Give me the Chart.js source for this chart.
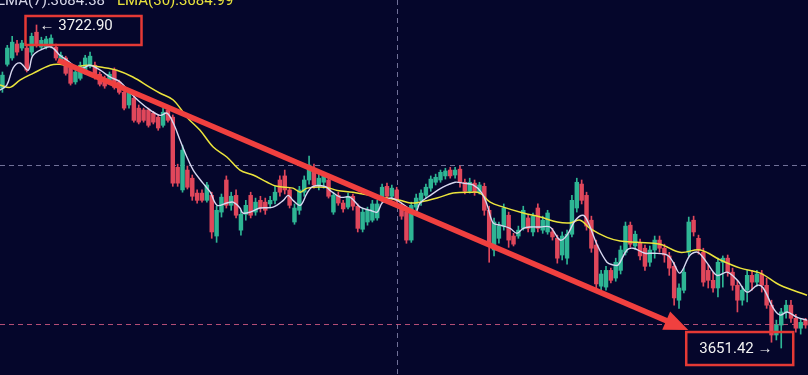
<!DOCTYPE html>
<html>
<head>
<meta charset="utf-8">
<script src="https://cdn.jsdelivr.net/npm/chart.js@4.4.1/dist/chart.umd.min.js"></script>
<style>
  html, body { margin: 0; padding: 0; background: #05062b; }
  #wrap { position: relative; width: 808px; height: 375px; overflow: hidden; }
  canvas { display: block; }
</style>
</head>
<body>
<div id="wrap"><canvas id="chart" width="808" height="375"></canvas></div>
<script>
// candles, one per period
const opens = [
  3708.9, 3714.2, 3715.6, 3718.7, 3717.8, 3717.8, 3716.9, 3721.3, 3718.0, 3718.0,
  3718.2, 3718.0, 3714.7, 3715.6, 3713.6, 3710.3, 3711.1, 3712.5, 3713.8, 3714.0,
  3712.0, 3711.1, 3710.3, 3712.9, 3710.3, 3708.0, 3705.2, 3706.7, 3704.5, 3704.1,
  3704.1, 3703.4, 3702.5, 3700.7, 3704.1, 3702.5, 3691.4, 3686.4, 3690.8, 3689.0,
  3685.7, 3685.7, 3684.1, 3685.2, 3676.2, 3681.5, 3688.6, 3683.0, 3685.2, 3677.5,
  3681.0, 3685.2, 3681.5, 3684.1, 3683.7, 3683.3, 3684.1, 3688.6, 3689.5, 3686.4,
  3679.3, 3681.9, 3685.9, 3688.6, 3691.2, 3687.5, 3688.1, 3688.6, 3681.5, 3685.2,
  3683.5, 3682.6, 3685.0, 3682.8, 3677.7, 3679.3, 3679.7, 3680.2, 3684.1, 3687.2,
  3685.0, 3686.4, 3682.8, 3681.5, 3675.3, 3682.6, 3684.1, 3685.2, 3686.8, 3688.1,
  3688.6, 3689.5, 3690.8, 3689.7, 3691.0, 3688.1, 3686.1, 3687.9, 3685.9, 3687.2,
  3681.9, 3673.1, 3675.7, 3678.4, 3680.8, 3676.2, 3676.2, 3677.9, 3680.2, 3677.1,
  3682.4, 3677.5, 3677.1, 3677.1, 3675.7, 3672.0, 3671.3, 3676.6, 3682.4, 3687.7,
  3685.2, 3679.7, 3674.2, 3665.1, 3664.9, 3668.6, 3666.9, 3668.6, 3672.6, 3678.6,
  3674.0, 3674.8, 3673.5, 3670.4, 3673.1, 3675.3, 3673.5, 3671.8, 3669.5, 3662.0,
  3664.2, 3672.6, 3679.7, 3675.7, 3672.6, 3668.6, 3666.4, 3664.7, 3670.4, 3671.3,
  3668.2, 3665.3, 3662.0, 3664.2, 3667.5, 3666.0, 3667.8, 3665.3, 3660.9, 3654.3,
  3656.5, 3659.4, 3660.9, 3658.0, 3655.8, 3657.6
];
const closes = [
  3711.8, 3717.8, 3719.1, 3716.9, 3718.9, 3712.9, 3720.4, 3718.4, 3719.5, 3719.8,
  3720.0, 3715.6, 3716.2, 3712.2, 3710.0, 3712.5, 3714.0, 3715.6, 3716.0, 3711.4,
  3709.8, 3709.4, 3712.0, 3709.1, 3708.0, 3704.5, 3708.0, 3701.8, 3701.4, 3701.8,
  3700.7, 3701.4, 3700.1, 3703.6, 3701.8, 3687.9, 3687.9, 3695.2, 3687.0, 3685.0,
  3684.1, 3684.1, 3687.5, 3677.1, 3681.9, 3684.8, 3683.0, 3685.0, 3680.8, 3681.0,
  3683.0, 3680.8, 3683.7, 3682.4, 3681.9, 3684.1, 3685.9, 3685.9, 3686.4, 3683.0,
  3682.4, 3686.4, 3688.6, 3691.9, 3687.5, 3689.0, 3689.5, 3685.0, 3685.2, 3683.5,
  3682.2, 3685.0, 3682.8, 3677.9, 3681.5, 3681.9, 3683.3, 3683.3, 3687.0, 3685.0,
  3686.8, 3684.1, 3680.6, 3675.3, 3683.0, 3684.6, 3685.7, 3687.0, 3688.8, 3689.2,
  3690.3, 3690.6, 3689.5, 3690.8, 3688.1, 3686.1, 3688.1, 3685.9, 3687.5, 3681.9,
  3674.2, 3679.3, 3678.4, 3682.4, 3675.3, 3674.4, 3677.5, 3681.9, 3677.9, 3680.6,
  3677.9, 3679.7, 3681.3, 3676.0, 3671.3, 3676.2, 3676.6, 3684.1, 3688.1, 3684.1,
  3678.4, 3673.5, 3665.6, 3667.8, 3668.6, 3666.4, 3670.4, 3673.1, 3678.4, 3674.4,
  3676.6, 3671.8, 3669.5, 3673.1, 3675.3, 3673.5, 3672.0, 3669.1, 3662.5, 3664.7,
  3668.2, 3679.3, 3677.1, 3673.1, 3666.0, 3666.4, 3664.7, 3670.4, 3671.3, 3668.2,
  3665.3, 3662.0, 3664.2, 3667.5, 3666.0, 3667.8, 3665.3, 3660.9, 3654.3, 3656.5,
  3659.4, 3660.9, 3658.0, 3655.8, 3657.1, 3656.5
];
const highs = [
  3712.5, 3718.4, 3720.4, 3719.5, 3719.5, 3718.4, 3721.1, 3722.90, 3720.2, 3720.4,
  3720.7, 3718.7, 3716.9, 3716.0, 3714.2, 3712.9, 3714.7, 3716.2, 3716.9, 3714.7,
  3712.5, 3711.6, 3712.5, 3713.4, 3710.7, 3708.7, 3708.5, 3707.2, 3705.2, 3704.5,
  3704.5, 3703.8, 3703.0, 3704.5, 3704.9, 3703.0, 3692.1, 3696.3, 3691.7, 3689.7,
  3686.4, 3686.4, 3688.1, 3685.9, 3682.8, 3685.5, 3689.5, 3685.9, 3686.4, 3681.9,
  3684.1, 3685.9, 3684.6, 3685.0, 3684.6, 3685.0, 3687.2, 3689.5, 3690.8, 3686.8,
  3683.3, 3687.2, 3689.5, 3693.9, 3692.1, 3689.9, 3690.3, 3689.5, 3685.9, 3685.9,
  3684.1, 3685.7, 3685.5, 3683.3, 3682.4, 3682.6, 3684.1, 3684.1, 3687.7, 3687.9,
  3687.5, 3687.0, 3683.5, 3682.4, 3683.7, 3685.5, 3686.4, 3687.7, 3689.5, 3689.9,
  3690.8, 3691.2, 3691.4, 3691.4, 3691.7, 3688.8, 3689.0, 3688.6, 3688.1, 3687.9,
  3682.8, 3680.2, 3679.3, 3683.3, 3681.5, 3676.8, 3678.4, 3682.8, 3680.8, 3681.3,
  3683.3, 3680.6, 3681.9, 3677.9, 3676.4, 3677.1, 3677.5, 3685.2, 3689.0, 3688.6,
  3685.9, 3680.6, 3675.3, 3668.6, 3669.5, 3669.1, 3671.3, 3674.0, 3679.3, 3679.3,
  3677.3, 3675.5, 3674.2, 3674.0, 3676.2, 3676.2, 3674.4, 3672.6, 3670.4, 3665.6,
  3669.1, 3680.4, 3680.6, 3676.4, 3673.5, 3669.8, 3668.2, 3671.3, 3671.8, 3672.0,
  3669.1, 3666.4, 3665.1, 3668.6, 3668.6, 3668.6, 3668.6, 3666.9, 3662.0, 3657.6,
  3660.2, 3662.0, 3662.0, 3658.9, 3658.0, 3658.0
];
const lows = [
  3708.0, 3713.8, 3715.1, 3716.2, 3717.3, 3712.5, 3716.2, 3718.0, 3717.6, 3717.6,
  3717.8, 3715.1, 3714.2, 3711.8, 3709.6, 3709.8, 3710.7, 3712.0, 3713.4, 3710.9,
  3709.4, 3708.9, 3709.8, 3708.7, 3707.6, 3704.1, 3704.5, 3701.4, 3701.0, 3701.4,
  3700.3, 3701.0, 3699.6, 3700.3, 3701.4, 3687.2, 3687.2, 3685.9, 3686.6, 3684.1,
  3683.5, 3683.7, 3683.7, 3675.7, 3674.8, 3680.4, 3682.4, 3681.9, 3680.2, 3676.4,
  3679.7, 3680.2, 3680.8, 3681.5, 3681.0, 3682.4, 3683.3, 3685.0, 3685.5, 3682.4,
  3678.8, 3681.0, 3685.0, 3687.7, 3686.8, 3686.4, 3686.8, 3684.6, 3681.0, 3683.0,
  3681.5, 3682.2, 3681.9, 3677.1, 3677.1, 3678.6, 3679.3, 3679.7, 3683.7, 3684.4,
  3684.6, 3683.7, 3679.9, 3674.6, 3674.8, 3681.9, 3683.0, 3684.6, 3686.1, 3687.5,
  3688.1, 3688.8, 3689.0, 3689.0, 3687.0, 3685.5, 3685.7, 3685.2, 3685.5, 3680.8,
  3670.4, 3671.8, 3674.6, 3677.5, 3673.7, 3674.0, 3675.7, 3677.5, 3677.1, 3676.2,
  3677.1, 3676.8, 3676.6, 3675.3, 3670.2, 3670.9, 3670.0, 3676.0, 3681.5, 3683.3,
  3677.5, 3672.6, 3664.2, 3663.3, 3664.2, 3665.8, 3666.2, 3667.8, 3672.0, 3673.7,
  3673.3, 3670.9, 3668.6, 3669.5, 3671.3, 3672.6, 3670.4, 3667.5, 3660.9, 3660.2,
  3663.6, 3671.8, 3676.2, 3672.2, 3665.1, 3664.7, 3663.8, 3662.7, 3664.9, 3667.3,
  3664.2, 3659.4, 3660.9, 3661.6, 3664.2, 3665.1, 3663.8, 3660.2, 3652.7, 3653.2,
  3651.42, 3658.0, 3657.1, 3654.9, 3654.5, 3655.8
];

// moving averages: candle position -> value
const ma7Pos = [
  -0.5, 0.9, 2.2, 3.6, 5.3, 6.3, 9.2, 10.4, 11.8, 13.3, 15.3, 16.6, 18.0, 20.1, 22.1,
  24.2, 26.2, 28.3, 30.3, 32.4, 33.8, 35.1, 36.5, 37.9, 39.2, 41.2, 42.7, 44.1, 46.1,
  47.4, 48.8, 49.4, 50.9, 52.9, 55.6, 57.7, 58.7, 59.7, 61.2, 62.6, 63.8, 66.3, 67.3,
  69.4, 71.4, 73.5, 75.5, 77.0, 78.0, 79.6, 81.1, 83.1, 84.8, 85.8, 87.9, 90.5, 93.0,
  94.6, 96.7, 98.5, 99.6, 100.8, 102.3, 104.3, 105.7, 107.0, 108.4, 110.5, 112.5,
  114.6, 116.0, 117.7, 119.3, 120.3, 122.2, 124.2, 125.5, 126.5, 128.3, 129.6, 132.0,
  133.7, 136.6, 137.8, 139.2, 141.3, 142.9, 144.8, 146.8, 148.9, 151.0, 153.0, 155.1,
  156.3, 158.4, 159.8, 161.2, 163.3, 165.3
];
const ma7 = [
  3708.5, 3709.6, 3713.4, 3714.5, 3712.9, 3716.2, 3718.0, 3717.8, 3716.2, 3715.1,
  3713.4, 3713.4, 3714.0, 3712.9, 3711.4, 3710.3, 3708.0, 3705.8, 3704.1, 3702.9,
  3703.4, 3701.2, 3697.4, 3693.7, 3690.8, 3687.9, 3685.9, 3683.0, 3683.5, 3683.7,
  3682.4, 3681.3, 3681.5, 3682.4, 3682.6, 3684.1, 3685.2, 3684.1, 3683.0, 3685.7,
  3687.2, 3687.2, 3686.3, 3684.8, 3684.8, 3682.6, 3681.9, 3681.5, 3683.5, 3684.6,
  3684.1, 3682.6, 3681.3, 3683.5, 3685.2, 3687.0, 3688.1, 3687.9, 3687.5, 3685.7,
  3683.0, 3679.1, 3678.6, 3677.9, 3676.8, 3677.9, 3678.2, 3678.2, 3678.2, 3675.3,
  3676.4, 3679.7, 3680.8, 3679.3, 3674.2, 3670.4, 3669.8, 3669.8, 3673.1, 3673.5,
  3672.4, 3672.4, 3672.0, 3670.4, 3668.0, 3672.0, 3672.6, 3670.2, 3667.5, 3668.2,
  3666.4, 3663.8, 3665.3, 3664.7, 3660.2, 3658.7, 3659.4, 3658.2, 3657.6
];
const ma30Pos = [
  -0.5, 1.6, 3.6, 6.3, 9.8, 11.8, 14.5, 17.4, 20.1, 23.5, 26.8, 30.3, 32.4, 35.1,
  37.9, 40.6, 43.3, 46.1, 48.8, 51.5, 54.4, 56.4, 59.7, 61.2, 62.6, 66.3, 68.8, 72.0,
  75.5, 79.0, 81.7, 83.8, 85.8, 89.3, 92.6, 96.1, 98.1, 100.2, 102.9, 107.0, 110.5,
  114.0, 116.6, 118.7, 120.7, 124.2, 126.9, 130.4, 135.1, 139.2, 143.4, 147.5, 151.6,
  155.7, 159.8, 165.3
];
const ma30 = [
  3709.6, 3709.1, 3710.7, 3712.2, 3714.0, 3714.2, 3713.6, 3714.0, 3713.6, 3712.9,
  3711.4, 3709.1, 3707.8, 3706.3, 3702.5, 3699.6, 3695.9, 3693.7, 3690.8, 3689.7,
  3688.1, 3687.2, 3686.8, 3685.9, 3686.8, 3687.0, 3686.3, 3685.9, 3685.2, 3684.6,
  3684.1, 3683.5, 3683.7, 3684.6, 3685.7, 3685.9, 3685.7, 3683.7, 3682.6, 3681.3,
  3680.4, 3679.3, 3679.1, 3679.7, 3677.9, 3675.9, 3675.1, 3674.8, 3674.4, 3672.6,
  3673.1, 3670.9, 3669.1, 3668.0, 3665.3, 3663.1
];

const legendTexts = ['LMA(7):3684.38', 'LMA(30):3684.99'];
const highLabel = '\u2190 3722.90';
const lowLabel = '3651.42 \u2192';
const highAt = [7, 3722.90];
const lowAt = [160, 3651.42];
const crossPos = 81;
const crossPrice = 3691.9;
const lastPrice = 3656.7;
const arrowFrom = [11.4, 3715.1];
const arrowTo = [140.9, 3655.4];

const UP = '#2eb594';
const DOWN = '#e0475b';
const BG = '#05062b';

const candleColor = c => closes[c.dataIndex] >= opens[c.dataIndex] ? UP : DOWN;

const overlay = {
  id: 'overlay',
  beforeDraw(chart) {
    const ctx = chart.ctx;
    ctx.save();
    ctx.fillStyle = BG;
    ctx.fillRect(0, 0, chart.width, chart.height);
    ctx.restore();
  },
  beforeDatasetsDraw(chart) {
    const { ctx, chartArea: a, scales: { x, y } } = chart;
    ctx.save();
    ctx.lineWidth = 1;
    ctx.setLineDash([5, 4]);
    ctx.strokeStyle = 'rgba(150,150,190,0.75)';
    const cx = Math.round(x.getPixelForValue(crossPos)) + 0.5;
    ctx.beginPath(); ctx.moveTo(cx, a.top); ctx.lineTo(cx, a.bottom); ctx.stroke();
    const cy = Math.round(y.getPixelForValue(crossPrice)) + 0.5;
    ctx.beginPath(); ctx.moveTo(a.left, cy); ctx.lineTo(a.right, cy); ctx.stroke();
    ctx.strokeStyle = 'rgba(210,90,130,0.85)';
    const ly = Math.round(y.getPixelForValue(lastPrice)) + 0.5;
    ctx.beginPath(); ctx.moveTo(a.left, ly); ctx.lineTo(a.right, ly); ctx.stroke();
    ctx.restore();
  },
  afterDatasetsDraw(chart) {
    const { ctx, scales: { x, y } } = chart;
    ctx.save();

    // trend arrow
    const x1 = x.getPixelForValue(arrowFrom[0]), y1 = y.getPixelForValue(arrowFrom[1]);
    const x2 = x.getPixelForValue(arrowTo[0]), y2 = y.getPixelForValue(arrowTo[1]);
    const ang = Math.atan2(y2 - y1, x2 - x1);
    const headLen = 24, headW = 10;
    const bx = x2 - headLen * Math.cos(ang), by = y2 - headLen * Math.sin(ang);
    ctx.strokeStyle = '#f0403f';
    ctx.fillStyle = '#f0403f';
    ctx.lineWidth = 5.5;
    ctx.lineCap = 'butt';
    ctx.beginPath(); ctx.moveTo(x1, y1); ctx.lineTo(bx + 2 * Math.cos(ang), by + 2 * Math.sin(ang)); ctx.stroke();
    ctx.beginPath();
    ctx.moveTo(x2, y2);
    ctx.lineTo(bx + headW * Math.sin(ang), by - headW * Math.cos(ang));
    ctx.lineTo(bx - headW * Math.sin(ang), by + headW * Math.cos(ang));
    ctx.closePath(); ctx.fill();

    // high / low boxes
    ctx.strokeStyle = '#e53935';
    ctx.lineWidth = 2.5;
    ctx.fillStyle = '#f2f2f2';
    ctx.textBaseline = 'middle';
    const hx = x.getPixelForValue(highAt[0]), hy = y.getPixelForValue(highAt[1]);
    ctx.strokeRect(hx - 11, hy - 9, 116, 29);
    ctx.font = '15px Roboto, sans-serif';
    ctx.fillText(highLabel, hx + 3, hy + 1);
    const lx = x.getPixelForValue(lowAt[0]), ly = y.getPixelForValue(lowAt[1]);
    ctx.strokeRect(lx - 95, ly - 16, 107, 33);
    ctx.font = '15px Roboto, sans-serif';
    ctx.fillText(lowLabel, lx - 82, ly + 1);

    // MA legend, cut by the top edge
    ctx.textBaseline = 'alphabetic';
    ctx.font = '15px Roboto, sans-serif';
    ctx.fillStyle = '#d6d6e8';
    ctx.fillText(legendTexts[0], -3, 5);
    ctx.fillStyle = '#e8e23c';
    ctx.fillText(legendTexts[1], 117, 5);
    ctx.restore();
  }
};

new Chart(document.getElementById('chart'), {
  type: 'bar',
  data: {
    datasets: [
      {
        type: 'line', label: 'MA7', order: 0,
        data: ma7Pos.map((p, i) => ({ x: p, y: ma7[i] })),
        borderColor: '#d8d8f0', borderWidth: 1.4, pointRadius: 0, tension: 0.35, fill: false
      },
      {
        type: 'line', label: 'MA30', order: 1,
        data: ma30Pos.map((p, i) => ({ x: p, y: ma30[i] })),
        borderColor: '#ebe33c', borderWidth: 1.5, pointRadius: 0, tension: 0.35, fill: false
      },
      {
        label: 'body', order: 2, grouped: false,
        data: opens.map((o, i) => ({ x: i, y: [o, closes[i]] })),
        backgroundColor: candleColor, barThickness: 3.8, minBarLength: 1, borderWidth: 0
      },
      {
        label: 'wick', order: 3, grouped: false,
        data: lows.map((l, i) => ({ x: i, y: [l, highs[i]] })),
        backgroundColor: candleColor, barThickness: 1, borderWidth: 0
      }
    ]
  },
  options: {
    responsive: false,
    animation: false,
    devicePixelRatio: 1,
    layout: { padding: 0 },
    plugins: { legend: { display: false }, tooltip: { enabled: false } },
    scales: {
      x: { type: 'linear', min: -0.5, max: opens.length - 0.5, offset: false, display: false },
      y: { min: 3645.45, max: 3728.43, display: false }
    }
  },
  plugins: [overlay]
});
</script>
</body>
</html>
